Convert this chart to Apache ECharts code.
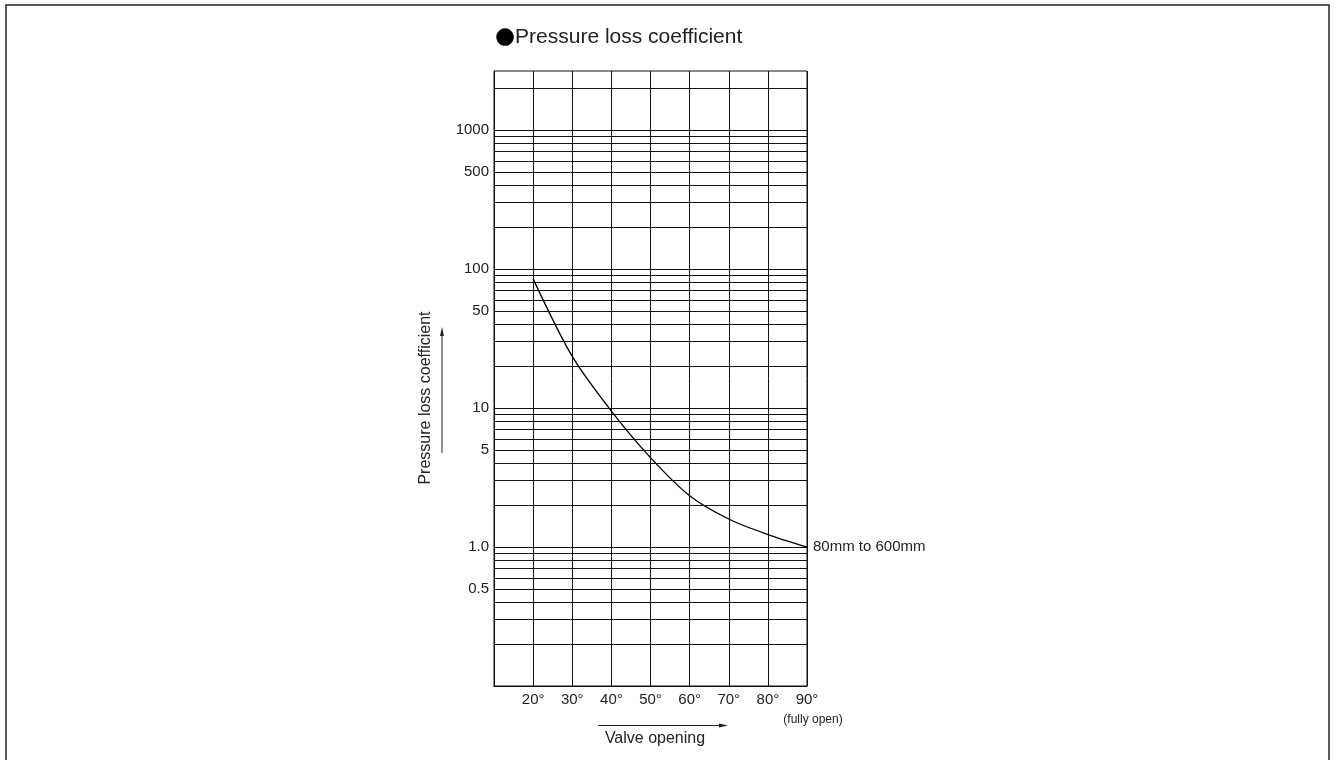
<!DOCTYPE html>
<html>
<head>
<meta charset="utf-8">
<script src="https://cdn.jsdelivr.net/npm/echarts@6/dist/echarts.min.js"></script>
<style>
html,body{margin:0;padding:0;background:#fff;}
#chart{width:1337px;height:760px;}
</style>
</head>
<body>
<div id="chart"></div>
<script>
// ---- data ----
const openingDeg = [20, 30, 40, 50, 60, 70, 80, 90];
const lossCoef   = [85, 23.5, 9.5, 4.4, 2.34, 1.59, 1.23, 1.0];
const yGridValues = [0.2,0.3,0.4,0.5,0.6,0.7,0.8,0.9,
                     1,2,3,4,5,6,7,8,9,
                     10,20,30,40,50,60,70,80,90,
                     100,200,300,400,500,600,700,800,900,
                     1000,2000];
const yLabelValues = [0.5, 1, 5, 10, 50, 100, 500, 1000];
const yLabelTexts  = ['0.5', '1.0', '5', '10', '50', '100', '500', '1000'];
const xMin = 10, xMax = 90, xStep = 10;
const yMin = 0.1, yMax = 2660;
const seriesLabel = '80mm to 600mm';
const titleText = 'Pressure loss coefficient';
const yName = 'Pressure loss coefficient';
const xName = 'Valve opening';
const xNote = '(fully open)';

const FONT = 'Liberation Sans, Arial, Helvetica, sans-serif';
const TXT = '#222';
const LINE = '#111';

const markData = yGridValues.map(v => {
  const i = yLabelValues.indexOf(v);
  const item = { yAxis: v };
  if (i >= 0) {
    item.label = { show: true, position: 'start', distance: 5, formatter: yLabelTexts[i],
                   fontSize: 15, color: TXT, fontFamily: FONT };
  }
  return item;
});

const chart = echarts.init(document.getElementById('chart'), null, { renderer: 'canvas' });
chart.setOption({
  animation: false,
  backgroundColor: '#fff',
  grid: { left: 494, top: 71, width: 313, height: 615, show: true,
          borderColor: LINE, borderWidth: 1, backgroundColor: 'transparent' },
  xAxis: {
    type: 'value', min: xMin, max: xMax, interval: xStep,
    axisLine: { show: true, lineStyle: { color: LINE, width: 1 } },
    axisTick: { show: false },
    axisLabel: { formatter: v => (v === xMin ? '' : v + '°'), fontSize: 15, color: TXT,
                 fontFamily: FONT, margin: 6 },
    splitLine: { show: true, lineStyle: { color: LINE, width: 1 } }
  },
  yAxis: {
    type: 'log', logBase: 10, min: yMin, max: yMax,
    axisLine: { show: true, lineStyle: { color: LINE, width: 1 } },
    axisTick: { show: false },
    axisLabel: { show: false },
    splitLine: { show: false }
  },
  series: [{
    type: 'line',
    data: openingDeg.map((d, i) => [d, lossCoef[i]]),
    smooth: 0.3,
    showSymbol: false,
    symbol: 'none',
    lineStyle: { color: '#000', width: 1.3 },
    endLabel: { show: true, formatter: seriesLabel, distance: 6, fontSize: 15,
                color: TXT, fontFamily: FONT },
    markLine: {
      silent: true,
      symbol: ['none', 'none'],
      lineStyle: { color: LINE, width: 1, type: 'solid' },
      label: { show: false },
      emphasis: { disabled: true },
      data: markData
    }
  }],
  graphic: [
    { type: 'rect', shape: { x: 6, y: 5, width: 1323, height: 800 },
      style: { fill: 'none', stroke: '#222', lineWidth: 1.5 }, silent: true },
    { type: 'text', x: 495, y: 37,
      style: { text: '{d|●}{t|' + titleText + '}', textVerticalAlign: 'middle', textAlign: 'left',
        rich: { d: { fontSize: 23, fontFamily: 'DejaVu Sans', fill: '#000' },
                t: { fontSize: 21, fontFamily: FONT, fill: TXT } } } },
    { type: 'text', x: 426, y: 398, rotation: Math.PI / 2,
      style: { text: yName, fontSize: 16, fontFamily: FONT, fill: TXT,
               textAlign: 'center', textVerticalAlign: 'middle' } },
    { type: 'line', shape: { x1: 442, y1: 453, x2: 442, y2: 334 },
      style: { stroke: '#222', lineWidth: 1 } },
    { type: 'polygon', shape: { points: [[442, 327], [440, 336], [444, 336]] },
      style: { fill: '#222' } },
    { type: 'line', shape: { x1: 598, y1: 725.5, x2: 721, y2: 725.5 },
      style: { stroke: '#222', lineWidth: 1 } },
    { type: 'polygon', shape: { points: [[728, 725.5], [719, 723.5], [719, 727.5]] },
      style: { fill: '#222' } },
    { type: 'text', x: 655, y: 739,
      style: { text: xName, fontSize: 16, fontFamily: FONT, fill: TXT,
               textAlign: 'center', textVerticalAlign: 'middle' } },
    { type: 'text', x: 813, y: 720,
      style: { text: xNote, fontSize: 12, fontFamily: FONT, fill: TXT,
               textAlign: 'center', textVerticalAlign: 'middle' } }
  ]
});
</script>
</body>
</html>
